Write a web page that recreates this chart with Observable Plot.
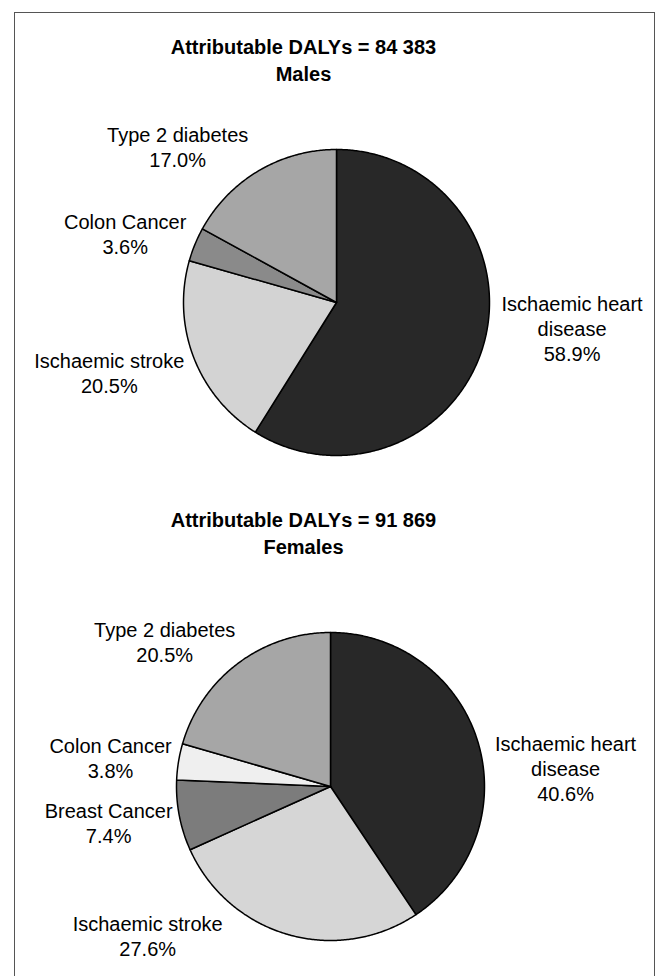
<!DOCTYPE html>
<html>
<head>
<meta charset="utf-8">
<script src="https://cdn.jsdelivr.net/npm/d3@7"></script>
<script src="https://cdn.jsdelivr.net/npm/@observablehq/plot@0.6"></script>
<style>
  html, body { margin: 0; padding: 0; background: #fff; }
  #page { position: relative; width: 662px; height: 976px; overflow: hidden; font-family: "Liberation Sans", Arial, Helvetica, sans-serif; }
  #frame { position: absolute; left: 14px; top: 12px; width: 639px; height: 1000px;
           border-top: 1px solid #555; border-left: 1px solid #555; border-right: 1px solid #555; }
  .panel { position: absolute; left: 0; }
  .panel svg { display: block; overflow: visible; }
</style>
</head>
<body>
<div id="page">
  <div id="frame"></div>
  <div id="male" class="panel" style="top:0px"></div>
  <div id="female" class="panel" style="top:490px"></div>
</div>
<script>
// ---------- data ----------
const maleTitle = "Attributable DALYs = 84 383";
const maleSubtitle = "Males";
const maleCategories = ["Ischaemic heart disease", "Ischaemic stroke", "Colon Cancer", "Type 2 diabetes"];
const maleLabels = ["Ischaemic heart\ndisease", "Ischaemic stroke", "Colon Cancer", "Type 2 diabetes"];
const maleValues = [58.9, 20.5, 3.6, 17.0];

const femaleTitle = "Attributable DALYs = 91 869";
const femaleSubtitle = "Females";
const femaleCategories = ["Ischaemic heart disease", "Ischaemic stroke", "Breast Cancer", "Colon Cancer", "Type 2 diabetes"];
const femaleLabels = ["Ischaemic heart\ndisease", "Ischaemic stroke", "Breast Cancer", "Colon Cancer", "Type 2 diabetes"];
const femaleValues = [40.6, 27.6, 7.4, 3.8, 20.5];

// ---------- styles / layout ----------
const maleColors = ["#282828", "#d3d3d3", "#8a8a8a", "#a6a6a6"];
const femaleColors = ["#282828", "#d6d6d6", "#7c7c7c", "#efefef", "#a6a6a6"];
// label nudges in pixels from a radial anchor at 1.5 radii
const maleNudges = [[15, -38], [-13, -12], [1, 18], [-42, 42]];
const femaleNudges = [[14, 48], [-119, -73], [5, -8], [8, 8], [-27, 40]];
const FONT = "Liberation Sans, Arial, Helvetica, sans-serif";

function slicePoints(cats, vals) {
  const arcs = d3.pie().sort(null).value(d => d)(vals);
  const pts = [];
  arcs.forEach((a, i) => {
    const n = Math.max(2, Math.ceil((a.endAngle - a.startAngle) / (Math.PI / 360)));
    pts.push({cat: cats[i], x: 0, y: 0});
    for (let k = 0; k <= n; k++) {
      const t = a.startAngle + (a.endAngle - a.startAngle) * k / n;
      pts.push({cat: cats[i], x: Math.sin(t), y: -Math.cos(t)});
    }
  });
  return {arcs, pts};
}

function piePlot({cats, labels, vals, colors, nudges, title, subtitle, width, height, cx, cy, R, titleX, titleY}) {
  const {arcs, pts} = slicePoints(cats, vals);
  const labelData = arcs.map((a, i) => {
    const m = (a.startAngle + a.endAngle) / 2;
    return {
      cat: cats[i],
      text: labels[i] + "\n" + vals[i].toFixed(1) + "%",
      x: 1.5 * Math.sin(m) + nudges[i][0] / R,
      y: -1.5 * Math.cos(m) + nudges[i][1] / R
    };
  });
  return Plot.plot({
    width, height,
    margin: 0,
    style: {fontFamily: FONT, background: "transparent", overflow: "visible"},
    x: {domain: [-cx / R, (width - cx) / R], range: [0, width], axis: null},
    y: {domain: [-cy / R, (height - cy) / R], range: [0, height], axis: null},
    color: {domain: cats, range: colors},
    marks: [
      Plot.line(pts, {x: "x", y: "y", z: "cat", fill: "cat", stroke: "#000", strokeWidth: 1.5,
                      strokeLinejoin: "round", curve: "linear-closed"}),
      Plot.text(labelData, {x: "x", y: "y", text: "text", fontSize: 20, lineHeight: 1.25,
                            textAnchor: "middle", lineAnchor: "middle", fill: "#000"}),
      Plot.text([title + "\n" + subtitle], {frameAnchor: "top-left", dx: titleX, dy: titleY,
                            text: d => d, fontSize: 20, fontWeight: "bold", lineHeight: 1.35,
                            textAnchor: "middle", lineAnchor: "middle", fill: "#000"})
    ]
  });
}

document.getElementById("male").appendChild(piePlot({
  cats: maleCategories, labels: maleLabels, vals: maleValues, colors: maleColors, nudges: maleNudges,
  title: maleTitle, subtitle: maleSubtitle,
  width: 662, height: 490, cx: 336, cy: 302, R: 153, titleX: 303, titleY: 58.5
}));

document.getElementById("female").appendChild(piePlot({
  cats: femaleCategories, labels: femaleLabels, vals: femaleValues, colors: femaleColors, nudges: femaleNudges,
  title: femaleTitle, subtitle: femaleSubtitle,
  width: 662, height: 486, cx: 330, cy: 296, R: 154, titleX: 303, titleY: 41.5
}));
</script>
</body>
</html>
